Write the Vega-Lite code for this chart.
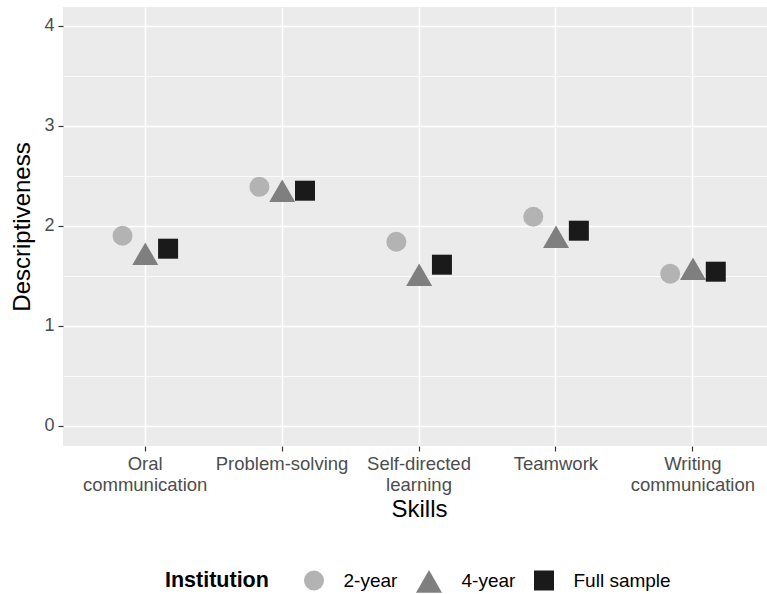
{
  "$schema": "https://vega.github.io/schema/vega-lite/v6.json",
  "width": 704,
  "height": 439,
  "autosize": "none",
  "padding": {"left": 63, "top": 7, "right": 0, "bottom": 148},
  "background": "white",
  "config": {
    "font": "Liberation Sans",
    "view": {"fill": "#ebebeb", "stroke": null}
  },
  "data": {
    "values": [
      {"skill": "Oral communication", "institution": "2-year", "value": 1.90},
      {"skill": "Oral communication", "institution": "4-year", "value": 1.72},
      {"skill": "Oral communication", "institution": "Full sample", "value": 1.77},
      {"skill": "Problem-solving", "institution": "2-year", "value": 2.39},
      {"skill": "Problem-solving", "institution": "4-year", "value": 2.35},
      {"skill": "Problem-solving", "institution": "Full sample", "value": 2.35},
      {"skill": "Self-directed learning", "institution": "2-year", "value": 1.84},
      {"skill": "Self-directed learning", "institution": "4-year", "value": 1.51},
      {"skill": "Self-directed learning", "institution": "Full sample", "value": 1.61},
      {"skill": "Teamwork", "institution": "2-year", "value": 2.09},
      {"skill": "Teamwork", "institution": "4-year", "value": 1.89},
      {"skill": "Teamwork", "institution": "Full sample", "value": 1.95},
      {"skill": "Writing communication", "institution": "2-year", "value": 1.52},
      {"skill": "Writing communication", "institution": "4-year", "value": 1.57},
      {"skill": "Writing communication", "institution": "Full sample", "value": 1.54}
    ]
  },
  "mark": {"type": "point", "filled": true, "opacity": 1, "strokeWidth": 0},
  "encoding": {
    "x": {
      "field": "skill",
      "type": "nominal",
      "sort": null,
      "scale": {"type": "band", "paddingInner": 0, "paddingOuter": 0.1, "range": [0, 712]},
      "axis": {
        "title": "Skills",
        "titleFontSize": 24,
        "titleFontWeight": "normal",
        "titleColor": "black",
        "titlePadding": 4,
        "labelAngle": 0,
        "labelFontSize": 18.5,
        "labelColor": "#4d4d4d",
        "labelPadding": 3,
        "labelLineHeight": 21,
        "labelExpr": "datum.value == 'Oral communication' ? ['Oral', 'communication'] : datum.value == 'Self-directed learning' ? ['Self-directed', 'learning'] : datum.value == 'Writing communication' ? ['Writing', 'communication'] : datum.value",
        "domain": false,
        "tickColor": "#333333",
        "tickSize": 5,
        "tickWidth": 1.2,
        "grid": true,
        "gridColor": "white",
        "gridWidth": 1.5,
        "bandPosition": 0.5
      }
    },
    "xOffset": {
      "field": "institution",
      "type": "nominal",
      "scale": {"type": "point", "padding": 0, "range": [45.8, 91.4]}
    },
    "y": {
      "field": "value",
      "type": "quantitative",
      "scale": {"domain": [-0.203, 4.187], "nice": false, "zero": false},
      "axis": {
        "title": "Descriptiveness",
        "titleFontSize": 24,
        "titleFontWeight": "normal",
        "titleColor": "black",
        "titlePadding": 9,
        "values": [0, 0.5, 1, 1.5, 2, 2.5, 3, 3.5, 4],
        "labelExpr": "datum.value % 1 == 0 ? format(datum.value, 'd') : ''",
        "labelFontSize": 18,
        "labelColor": "#4d4d4d",
        "labelPadding": 4,
        "domain": false,
        "tickColor": "#333333",
        "tickSize": 5,
        "tickWidth": 1.2,
        "tickOpacity": {"condition": {"test": "datum.value % 1 != 0", "value": 0}, "value": 1},
        "grid": true,
        "gridColor": "white",
        "gridWidth": {"condition": {"test": "datum.value % 1 != 0", "value": 0.8}, "value": 1.5}
      }
    },
    "color": {
      "field": "institution",
      "type": "nominal",
      "scale": {"domain": ["2-year", "4-year", "Full sample"], "range": ["#b3b3b3", "#7f7f7f", "#1a1a1a"]},
      "legend": {
        "title": "Institution",
        "orient": "none",
        "direction": "horizontal",
        "legendX": 102,
        "legendY": 560,
        "titleOrient": "left",
        "titleFontSize": 21.5,
        "titleFontWeight": "bold",
        "titleColor": "black",
        "titlePadding": 34,
        "labelFontSize": 19,
        "labelColor": "black",
        "labelOffset": 18.5,
        "columnPadding": 15,
        "symbolOpacity": 1
      }
    },
    "shape": {
      "field": "institution",
      "type": "nominal",
      "scale": {"domain": ["2-year", "4-year", "Full sample"], "range": ["circle", "triangle-up", "square"]}
    },
    "size": {
      "field": "institution",
      "type": "nominal",
      "scale": {"type": "ordinal", "domain": ["2-year", "4-year", "Full sample"], "range": [400, 676, 400]}
    }
  }
}
